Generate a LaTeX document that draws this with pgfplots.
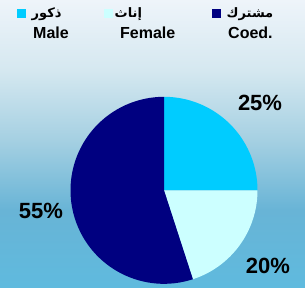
\documentclass[border=0pt]{standalone}
\usepackage{fontspec}
\setmainfont{Liberation Sans}
\newfontfamily\arabicfont[Script=Arabic]{DejaVu Sans}
\TeXXeTstate=1
\usepackage{pgfplots}
\pgfplotsset{compat=1.18}
\definecolor{malecol}{HTML}{00CCFF}
\definecolor{femalecol}{HTML}{CCFFFF}
\definecolor{coedcol}{HTML}{000080}
\definecolor{bg0}{HTML}{5FBADE}
\definecolor{bg1}{HTML}{68B4D6}
\definecolor{bg2}{HTML}{A5D0E2}
\definecolor{bg3}{HTML}{D5E8F0}
\definecolor{bg4}{HTML}{EEF4FA}
\pgfdeclareverticalshading{bgshade}{100bp}{color(0bp)=(bg0); color(25bp)=(bg0); color(38.4bp)=(bg1); color(50.6bp)=(bg2); color(62.8bp)=(bg3); color(75bp)=(bg4); color(100bp)=(bg4)}
% shares in percent
\def\pMale{25}\def\pFemale{20}\def\pCoed{55}
\begin{document}
\begin{tikzpicture}[x=1pt,y=1pt]
\useasboundingbox (0,0) rectangle (305,287);
\shade[shading=bgshade] (0,0) rectangle (305,287);
% legend
\fill[malecol] (17.2,268.7) rectangle (25.6,278);
\fill[femalecol] (104.2,268.7) rectangle (112.8,278);
\fill[coedcol] (212.2,268.7) rectangle (220.8,278);
\node[anchor=west,inner sep=0pt] at (31.5,273.2) {\arabicfont\bfseries\fontsize{13}{15}\selectfont\beginR ذكور\endR};
\node[anchor=west,inner sep=0pt] at (114.5,273.2) {\arabicfont\bfseries\fontsize{13}{15}\selectfont\beginR إناث\endR};
\node[anchor=west,inner sep=0pt] at (226.5,273.2) {\arabicfont\bfseries\fontsize{13}{15}\selectfont\beginR مشترك\endR};
\node[anchor=base west,inner sep=0pt] at (33,248) {\bfseries\fontsize{16}{18}\selectfont Male};
\node[anchor=base west,inner sep=0pt] at (120,248) {\bfseries\fontsize{16}{18}\selectfont Female};
\node[anchor=base west,inner sep=0pt] at (228,248) {\bfseries\fontsize{16}{18}\selectfont Coed.};
\begin{axis}[at={(164pt,96.7pt)}, anchor=origin, width=187pt, height=187pt, scale only axis,
  hide axis, xmin=-1, xmax=1, ymin=-1, ymax=1, clip=false]
\pgfmathsetmacro{\aA}{90}
\pgfmathsetmacro{\dA}{-3.6*\pMale}
\pgfmathsetmacro{\aB}{\aA+\dA}
\pgfmathsetmacro{\dB}{-3.6*\pFemale}
\pgfmathsetmacro{\aC}{\aB+\dB}
\pgfmathsetmacro{\dC}{-3.6*\pCoed}
\fill[malecol] (axis cs:0,0) -- (axis cs:{cos(\aA)},{sin(\aA)}) arc[start angle=\aA, delta angle=\dA, radius=1] -- cycle;
\fill[femalecol] (axis cs:0,0) -- (axis cs:{cos(\aB)},{sin(\aB)}) arc[start angle=\aB, delta angle=\dB, radius=1] -- cycle;
\fill[coedcol] (axis cs:0,0) -- (axis cs:{cos(\aC)},{sin(\aC)}) arc[start angle=\aC, delta angle=\dC, radius=1] -- cycle;
\node[font=\bfseries\fontsize{22}{24}\selectfont] at (axis cs:1.027,0.937) {\pMale\%};
\node[font=\bfseries\fontsize{22}{24}\selectfont] at (axis cs:1.112,-0.81) {\pFemale\%};
\node[font=\bfseries\fontsize{22}{24}\selectfont] at (axis cs:-1.316,-0.216) {\pCoed\%};
\end{axis}
\end{tikzpicture}
\end{document}
